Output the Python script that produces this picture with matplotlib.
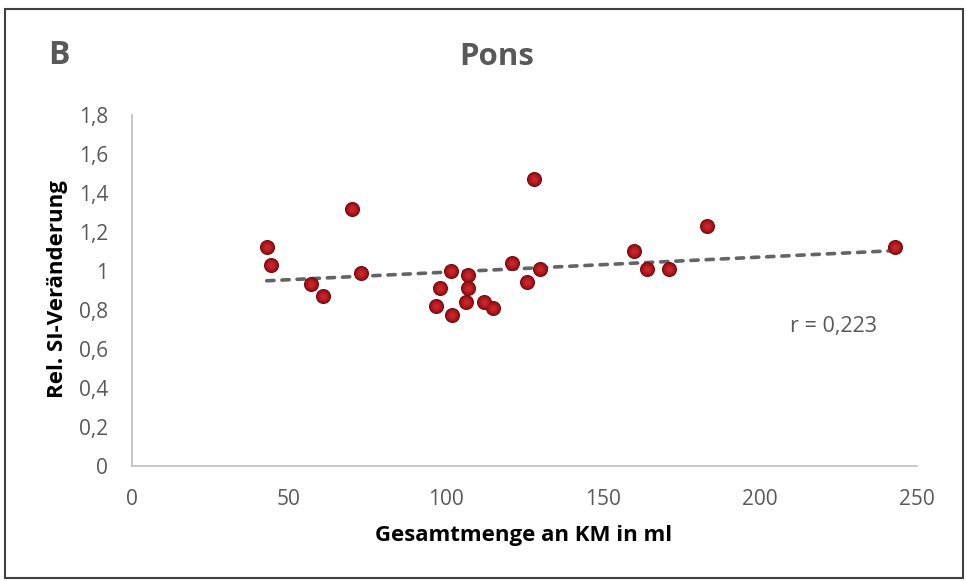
import matplotlib.pyplot as plt  # To draw the scatter plot
from matplotlib.patches import Rectangle  # To draw the frame around the figure
import numpy as np  # To fit the trendline

plt.rcParams['font.family'] = ['Open Sans', 'DejaVu Sans']

# Total contrast agent volume (ml) and relative signal intensity change in the pons
km_ml = [43, 44.5, 57, 61, 70, 73, 97, 98, 101.5, 102, 106.5, 107, 107, 112, 115,
         121, 126, 128, 130, 160, 164, 171, 183, 243]
si_change = [1.12, 1.03, 0.935, 0.87, 1.32, 0.99, 0.82, 0.91, 1.0, 0.775, 0.84, 0.98, 0.91, 0.84, 0.81,
             1.04, 0.945, 1.47, 1.01, 1.10, 1.01, 1.01, 1.23, 1.12]

x_ticks = [0, 50, 100, 150, 200, 250]
y_ticks = [0, 0.2, 0.4, 0.6, 0.8, 1.0, 1.2, 1.4, 1.6, 1.8]
y_tick_labels = ['0', '0,2', '0,4', '0,6', '0,8', '1', '1,2', '1,4', '1,6', '1,8']

GREY_TEXT = '#595959'
W, H = 966, 581

fig = plt.figure(figsize=(W / 100, H / 100), dpi=100)
ax = fig.add_axes([131.7 / W, 1 - 465.7 / H, (917 - 131.7) / W, (465.7 - 115) / H])

ax.set_xlim(0, 250)
ax.set_ylim(0, 1.8)
ax.set_xticks(x_ticks)
ax.set_xticklabels([str(t) for t in x_ticks])
ax.set_yticks(y_ticks)
ax.set_yticklabels(y_tick_labels)
ax.tick_params(length=0, labelsize=15, labelcolor=GREY_TEXT)
ax.tick_params(axis='x', pad=17)
ax.tick_params(axis='y', pad=17)

for side in ['top', 'right']:
    ax.spines[side].set_visible(False)
for side in ['left', 'bottom']:
    ax.spines[side].set_color('#BFBFBF')
    ax.spines[side].set_linewidth(1.2)

# Linear trendline over the range of the data
slope, intercept = np.polyfit(km_ml, si_change, 1)
x_line = np.array([min(km_ml), max(km_ml)])
ax.plot(x_line, slope * x_line + intercept, color='#646464', linewidth=2.6,
        dashes=(2.0, 2.2), dash_capstyle='round', zorder=2)

# Shaded sphere markers: concentric layers from dark rim to bright centre
layers = [(118, '#7A0C10'), (95, '#8E1014'), (68, '#A3161B'), (40, '#B71C22'), (16, '#C82429')]
for size, colour in layers:
    ax.scatter(km_ml, si_change, s=size, color=colour, linewidths=0, zorder=3)

ax.text(0.838, 0.398, 'r = 0,223', transform=ax.transAxes, va='center',
        fontsize=15.5, color=GREY_TEXT)

fig.text(497 / W, 1 - 57 / H, 'Pons', ha='center', va='center', fontsize=22.5,
         fontweight='bold', color=GREY_TEXT)
fig.text(48 / W, 1 - 56 / H, 'B', ha='left', va='center', fontsize=23,
         fontweight='bold', color=GREY_TEXT)
fig.text(524 / W, 1 - 535 / H, 'Gesamtmenge an KM in ml', ha='center', va='center',
         fontsize=16, fontweight='bold', color='black')
fig.text(58 / W, 1 - 289 / H, 'Rel. SI-Veränderung', ha='center', va='center',
         rotation=90, fontsize=16, fontweight='bold', color='black')

# Frame around the whole figure
fig.patches.append(Rectangle((5 / W, 1 - 578 / H), (963 - 5) / W, (578 - 9) / H,
                             transform=fig.transFigure, fill=False,
                             edgecolor='#404040', linewidth=1.5))

fig.savefig('out.png', dpi=100)
